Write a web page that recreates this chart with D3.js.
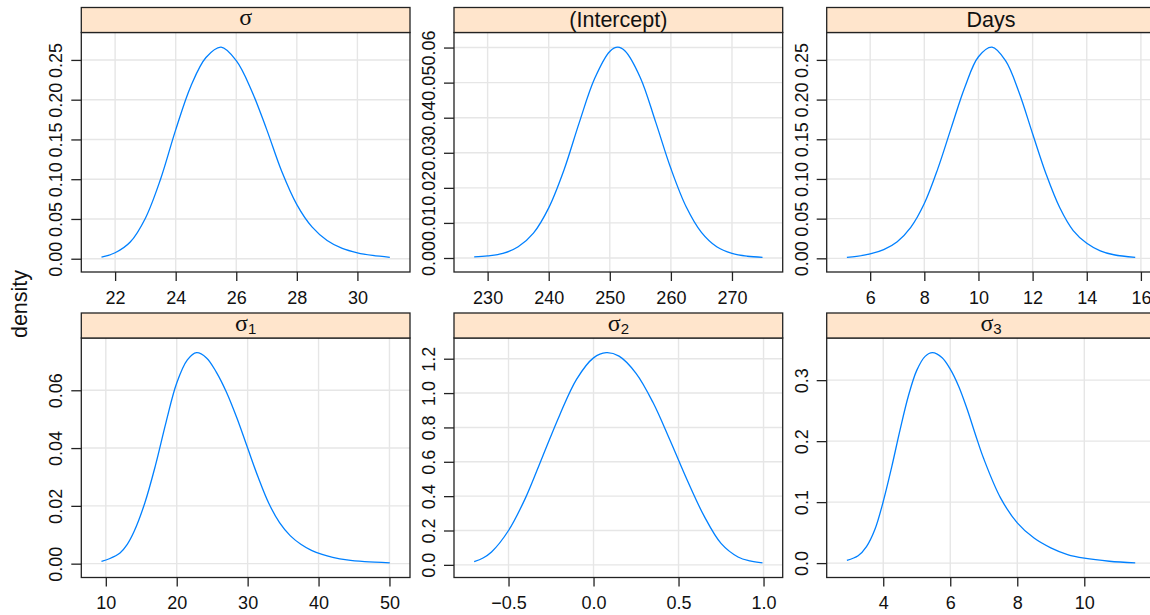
<!DOCTYPE html>
<html>
<head>
<meta charset="utf-8">
<script src="https://cdnjs.cloudflare.com/ajax/libs/d3/7.8.5/d3.min.js"></script>
<style>
  html, body { margin: 0; padding: 0; background: #fff; overflow: hidden; }
  svg { display: block; font-family: "Liberation Sans", Arial, Helvetica, sans-serif; }
</style>
</head>
<body>
<svg id="chart" width="1150" height="615"></svg>
<script>
// posterior densities, values
var sigmaX    = [21.55, 22, 22.5, 23, 23.5, 24, 24.5, 25, 25.5, 26, 26.5, 27, 27.5, 28, 28.5, 29, 29.5, 30, 30.5, 31.07];
var sigmaDens = [0.002, 0.0075, 0.021, 0.051, 0.100, 0.162, 0.217, 0.253, 0.266, 0.249, 0.212, 0.163, 0.110, 0.068, 0.040, 0.023, 0.013, 0.0075, 0.0042, 0.0018];

var interceptX    = [227.8, 230, 232.5, 235, 237.5, 240, 242.5, 245, 247.5, 250, 251.3, 252.5, 255, 257.5, 260, 262.5, 265, 267.5, 270, 272.5, 275];
var interceptDens = [0.0003, 0.0006, 0.0013, 0.0032, 0.0071, 0.0143, 0.0251, 0.0386, 0.0511, 0.0589, 0.0601, 0.0590, 0.0514, 0.0388, 0.0255, 0.0146, 0.0073, 0.0032, 0.0013, 0.0005, 0.0002];

var daysX    = [5.14, 5.5, 6, 6.5, 7, 7.5, 8, 8.5, 9, 9.5, 10, 10.5, 11, 11.5, 12, 12.5, 13, 13.5, 14, 14.5, 15, 15.79];
var daysDens = [0.0013, 0.0024, 0.0055, 0.011, 0.021, 0.039, 0.069, 0.113, 0.165, 0.216, 0.254, 0.266, 0.249, 0.209, 0.157, 0.106, 0.064, 0.035, 0.019, 0.0095, 0.0045, 0.0013];

var sigma1X    = [9.39, 10.5, 12, 13, 14, 15.5, 17, 18.5, 20, 21.5, 22.8, 24.2, 25.6, 27, 28.5, 30, 31.5, 33, 34.5, 36, 37.5, 39, 40.5, 42, 44, 46.5, 50.05];
var sigma1Dens = [0.0008, 0.0017, 0.0037, 0.0066, 0.0112, 0.021, 0.034, 0.049, 0.0625, 0.0705, 0.0730, 0.0712, 0.0662, 0.0594, 0.0503, 0.0400, 0.0298, 0.0208, 0.0142, 0.0097, 0.0067, 0.0046, 0.0032, 0.0022, 0.0013, 0.0007, 0.0003];

var sigma2X    = [-0.702, -0.65, -0.6, -0.5, -0.4, -0.3, -0.2, -0.1, 0.0, 0.075, 0.15, 0.25, 0.35, 0.45, 0.55, 0.65, 0.75, 0.85, 0.92, 0.994];
var sigma2Dens = [0.019, 0.040, 0.075, 0.200, 0.390, 0.630, 0.870, 1.080, 1.205, 1.235, 1.215, 1.115, 0.945, 0.725, 0.495, 0.285, 0.125, 0.046, 0.023, 0.012];

var sigma3X    = [2.915, 3.25, 3.5, 3.75, 4, 4.25, 4.5, 4.75, 5, 5.25, 5.47, 5.75, 6, 6.25, 6.5, 6.75, 7, 7.5, 8, 8.5, 9, 9.5, 10, 10.75, 11.52];
var sigma3Dens = [0.0044, 0.012, 0.027, 0.055, 0.101, 0.157, 0.218, 0.274, 0.316, 0.339, 0.345, 0.337, 0.318, 0.290, 0.253, 0.211, 0.171, 0.107, 0.066, 0.041, 0.025, 0.014, 0.008, 0.003, 0.0005];

// tick labels per panel
var sigmaXTicks = [22, 24, 26, 28, 30],           sigmaYTicks = [0, 0.05, 0.10, 0.15, 0.20, 0.25];
var interceptXTicks = [230, 240, 250, 260, 270],  interceptYTicks = [0, 0.01, 0.02, 0.03, 0.04, 0.05, 0.06];
var daysXTicks = [6, 8, 10, 12, 14, 16],          daysYTicks = [0, 0.05, 0.10, 0.15, 0.20, 0.25];
var sigma1XTicks = [10, 20, 30, 40, 50],          sigma1YTicks = [0, 0.02, 0.04, 0.06];
var sigma2XTicks = [-0.5, 0, 0.5, 1.0],           sigma2YTicks = [0, 0.2, 0.4, 0.6, 0.8, 1.0, 1.2];
var sigma3XTicks = [4, 6, 8, 10],                 sigma3YTicks = [0, 0.1, 0.2, 0.3];

var panels = [
    {name: 'σ', sub: null,    x: sigmaX, y: sigmaDens, xt: sigmaXTicks, yt: sigmaYTicks, xf: 'd', yf: '.2f'},
    {name: '(Intercept)', sub: null, x: interceptX, y: interceptDens, xt: interceptXTicks, yt: interceptYTicks, xf: 'd', yf: '.2f'},
    {name: 'Days', sub: null, x: daysX, y: daysDens, xt: daysXTicks, yt: daysYTicks, xf: 'd', yf: '.2f'},
    {name: 'σ', sub: '1',     x: sigma1X, y: sigma1Dens, xt: sigma1XTicks, yt: sigma1YTicks, xf: 'd', yf: '.2f'},
    {name: 'σ', sub: '2',     x: sigma2X, y: sigma2Dens, xt: sigma2XTicks, yt: sigma2YTicks, xf: '.1f', yf: '.1f'},
    {name: 'σ', sub: '3',     x: sigma3X, y: sigma3Dens, xt: sigma3XTicks, yt: sigma3YTicks, xf: 'd', yf: '.1f'}
];

var colX = [81.3, 454, 826.7], panelW = 328.7;
var rowY = [7.5, 313], stripH = 25, plotH = 239.5;
var lineCol = '#0080ff', stripCol = '#ffe5cc', gridCol = '#e6e6e6', axisCol = '#222';

// lattice style range padding
function padded(vals) {
    var e = d3.extent(vals), d = (e[1] - e[0]) * 0.07;
    return [e[0] - d, e[1] + d];
}

var svg = d3.select('#chart');

panels.forEach(function(p, i) {
    var left = colX[i % 3], top = rowY[Math.floor(i / 3)];
    var plotTop = top + stripH;

    var sx = d3.scaleLinear().domain(padded(p.x)).range([0, panelW]);
    var sy = d3.scaleLinear().domain(padded(p.y)).range([plotH, 0]);

    var g = svg.append('g').attr('transform', 'translate(' + left + ',' + plotTop + ')');

    // grid
    g.selectAll('line.vgrid').data(p.xt).enter().append('line')
        .attr('class', 'vgrid')
        .attr('x1', function(d){ return sx(d); }).attr('x2', function(d){ return sx(d); })
        .attr('y1', 0).attr('y2', plotH)
        .attr('stroke', gridCol).attr('stroke-width', 1.4);
    g.selectAll('line.hgrid').data(p.yt).enter().append('line')
        .attr('class', 'hgrid')
        .attr('y1', function(d){ return sy(d); }).attr('y2', function(d){ return sy(d); })
        .attr('x1', 0).attr('x2', panelW)
        .attr('stroke', gridCol).attr('stroke-width', 1.4);

    // density curve
    var pts = p.x.map(function(v, k){ return [v, p.y[k]]; });
    g.append('path')
        .datum(pts)
        .attr('fill', 'none')
        .attr('stroke', lineCol)
        .attr('stroke-width', 1.3)
        .attr('d', d3.line()
            .x(function(d){ return sx(d[0]); })
            .y(function(d){ return sy(d[1]); })
            .curve(d3.curveCatmullRom.alpha(0.5)));

    // panel border
    g.append('rect')
        .attr('width', panelW).attr('height', plotH)
        .attr('fill', 'none').attr('stroke', axisCol).attr('stroke-width', 1.3);

    // x axis
    var xa = g.append('g').attr('transform', 'translate(0,' + plotH + ')')
        .call(d3.axisBottom(sx).tickValues(p.xt).tickFormat(d3.format(p.xf))
            .tickSize(9).tickSizeOuter(0).tickPadding(10));
    xa.select('.domain').remove();
    xa.selectAll('line').attr('stroke', axisCol).attr('stroke-width', 1.3);
    xa.selectAll('text').attr('fill', '#111').style('font-size', '18px')
        .style('font-family', '"Liberation Sans", Arial, sans-serif');

    // y axis, labels turned upright like lattice
    var ya = g.append('g')
        .call(d3.axisLeft(sy).tickValues(p.yt).tickFormat(d3.format(p.yf))
            .tickSize(10).tickSizeOuter(0));
    ya.select('.domain').remove();
    ya.selectAll('line').attr('stroke', axisCol).attr('stroke-width', 1.3);
    ya.selectAll('text')
        .attr('x', 0).attr('y', -19).attr('dy', 0)
        .attr('transform', 'rotate(-90)')
        .attr('text-anchor', 'middle')
        .attr('fill', '#111').style('font-size', '18px')
        .style('font-family', '"Liberation Sans", Arial, sans-serif');

    // strip
    var s = svg.append('g').attr('transform', 'translate(' + left + ',' + top + ')');
    s.append('rect')
        .attr('width', panelW).attr('height', stripH)
        .attr('fill', stripCol).attr('stroke', axisCol).attr('stroke-width', 1.3);
    var t = s.append('text')
        .attr('x', panelW / 2)
        .attr('text-anchor', 'middle')
        .attr('fill', '#111');
    if (p.name === 'σ') {
        t.attr('y', 17.7);
        t.append('tspan').text('σ')
            .style('font-family', '"Liberation Serif", "DejaVu Serif", serif')
            .style('font-size', '24px');
        if (p.sub) {
            t.append('tspan').text(p.sub)
                .attr('dy', 3)
                .style('font-size', '15px');
        }
    } else {
        t.attr('y', 19.5).style('font-size', '21.5px').text(p.name);
    }
});

// shared y label
svg.append('text')
    .attr('transform', 'translate(19,304) rotate(-90)')
    .attr('text-anchor', 'middle')
    .attr('dy', '0.35em')
    .attr('fill', '#111')
    .style('font-size', '21.5px')
    .text('density');
</script>
</body>
</html>
